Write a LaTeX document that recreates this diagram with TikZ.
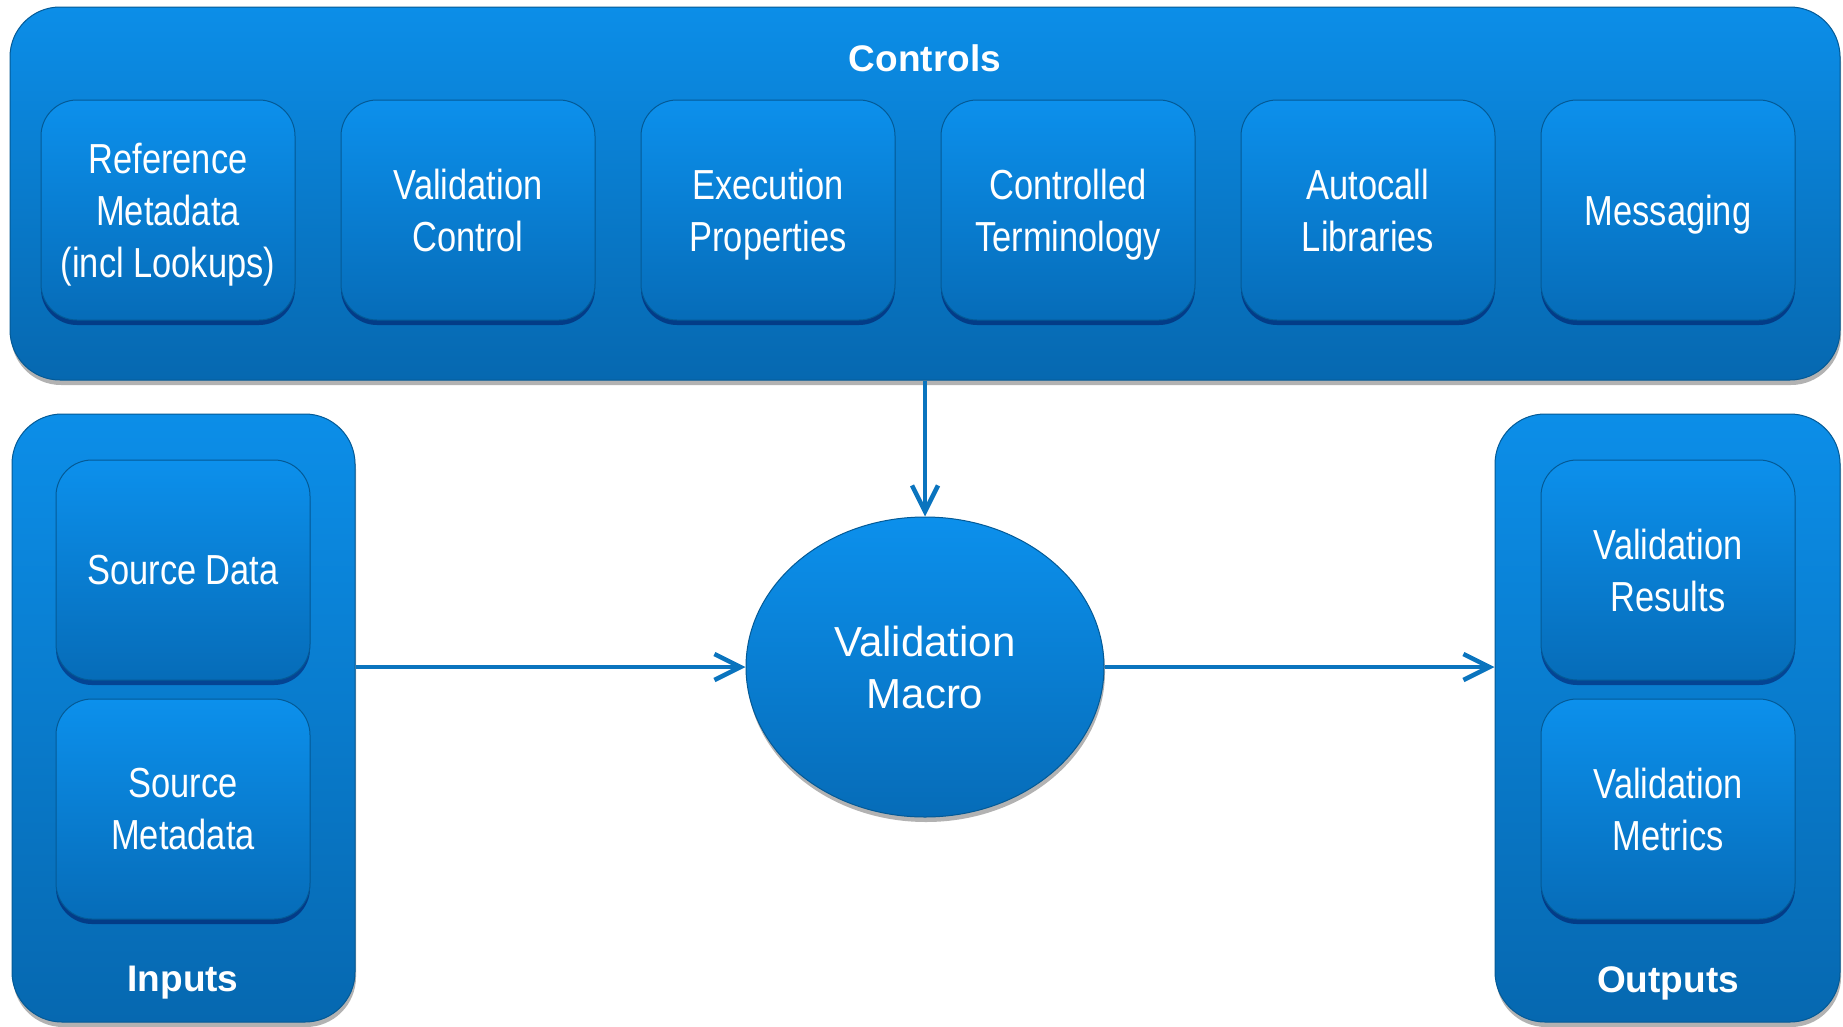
\documentclass[tikz,border=0pt]{standalone}
\usepackage{fontspec}
\setmainfont{Liberation Sans}
\newfontfamily\narrowfont[FakeStretch=0.82]{Liberation Sans}
\usetikzlibrary{shapes.geometric,shadows,arrows.meta}
\definecolor{topblue}{RGB}{12,142,232}
\definecolor{botblue}{RGB}{6,104,176}
\definecolor{intop}{RGB}{12,144,236}
\definecolor{inbot}{RGB}{6,108,184}
\definecolor{edgeblue}{RGB}{4,90,150}
\definecolor{arrowblue}{RGB}{10,116,190}
\tikzset{
  outerbox/.style={rectangle, rounded corners=50pt, top color=topblue, bottom color=botblue,
    draw=edgeblue, line width=1pt,
    drop shadow={shadow xshift=1pt, shadow yshift=-5pt, opacity=0.3, fill=black}},
  innerbox/.style={rectangle, rounded corners=36pt, top color=intop, bottom color=inbot,
    draw=edgeblue, line width=1pt, minimum width=254pt, minimum height=220pt,
    inner sep=0pt, text=white, align=center, text depth=0pt,
    font=\narrowfont\fontsize{42}{52}\selectfont,
    drop shadow={shadow xshift=0pt, shadow yshift=-5pt, opacity=0.45, fill=black!70!blue}},
  titletext/.style={text=white, font=\bfseries\fontsize{37}{44}\selectfont},
  macro/.style={ellipse, top color=intop, bottom color=inbot, draw=edgeblue, line width=1pt,
    minimum width=358pt, minimum height=300pt, inner sep=0pt, text=white, align=center,
    font=\fontsize{42}{52}\selectfont,
    drop shadow={shadow xshift=1pt, shadow yshift=-5pt, opacity=0.3, fill=black}},
  arr/.style={draw=arrowblue, line width=4.5pt, -{Straight Barb[length=26pt,width=26pt]}}
}
\begin{document}
\begin{tikzpicture}[x=1pt,y=-1pt]
\useasboundingbox[fill=white] (0,0) rectangle (1843,1026);
% outer containers
\node[outerbox, minimum width=1830pt, minimum height=373pt] (controls) at (925,193.5) {};
\node[outerbox, minimum width=343pt, minimum height=608pt] (inputs) at (183.5,718) {};
\node[outerbox, minimum width=345pt, minimum height=608pt] (outputs) at (1667.5,718) {};
% titles
\node[titletext] (ctitle) at (925,58) {Controls};
\node[titletext] (ititle) at (183,983) {Inputs};
\node[titletext] (otitle) at (1668,983) {Outputs};
% controls
\node[innerbox] (ref) at (168,210) {Reference\\Metadata\\(incl Lookups)};
\node[innerbox] (valc) at (468,210) {Validation\\Control};
\node[innerbox] (exec) at (768,210) {Execution\\Properties};
\node[innerbox] (term) at (1068,210) {Controlled\\Terminology};
\node[innerbox] (auto) at (1368,210) {Autocall\\Libraries};
\node[innerbox] (msg) at (1668,210) {Messaging};
% inputs
\node[innerbox] (sdata) at (183,570) {Source Data};
\node[innerbox] (smeta) at (183,809) {Source\\Metadata};
% outputs
\node[innerbox] (vres) at (1668,570) {Validation\\Results};
\node[innerbox] (vmet) at (1668,809) {Validation\\Metrics};
% macro
\node[macro] (ell) at (925,667) {Validation\\Macro};
% connectors
\draw[arr] (controls.south) -- (ell.north);
\draw[arr] (inputs.east |- ell) -- (ell.west);
\draw[arr] (ell.east) -- (outputs.west |- ell);
\end{tikzpicture}
\end{document}
